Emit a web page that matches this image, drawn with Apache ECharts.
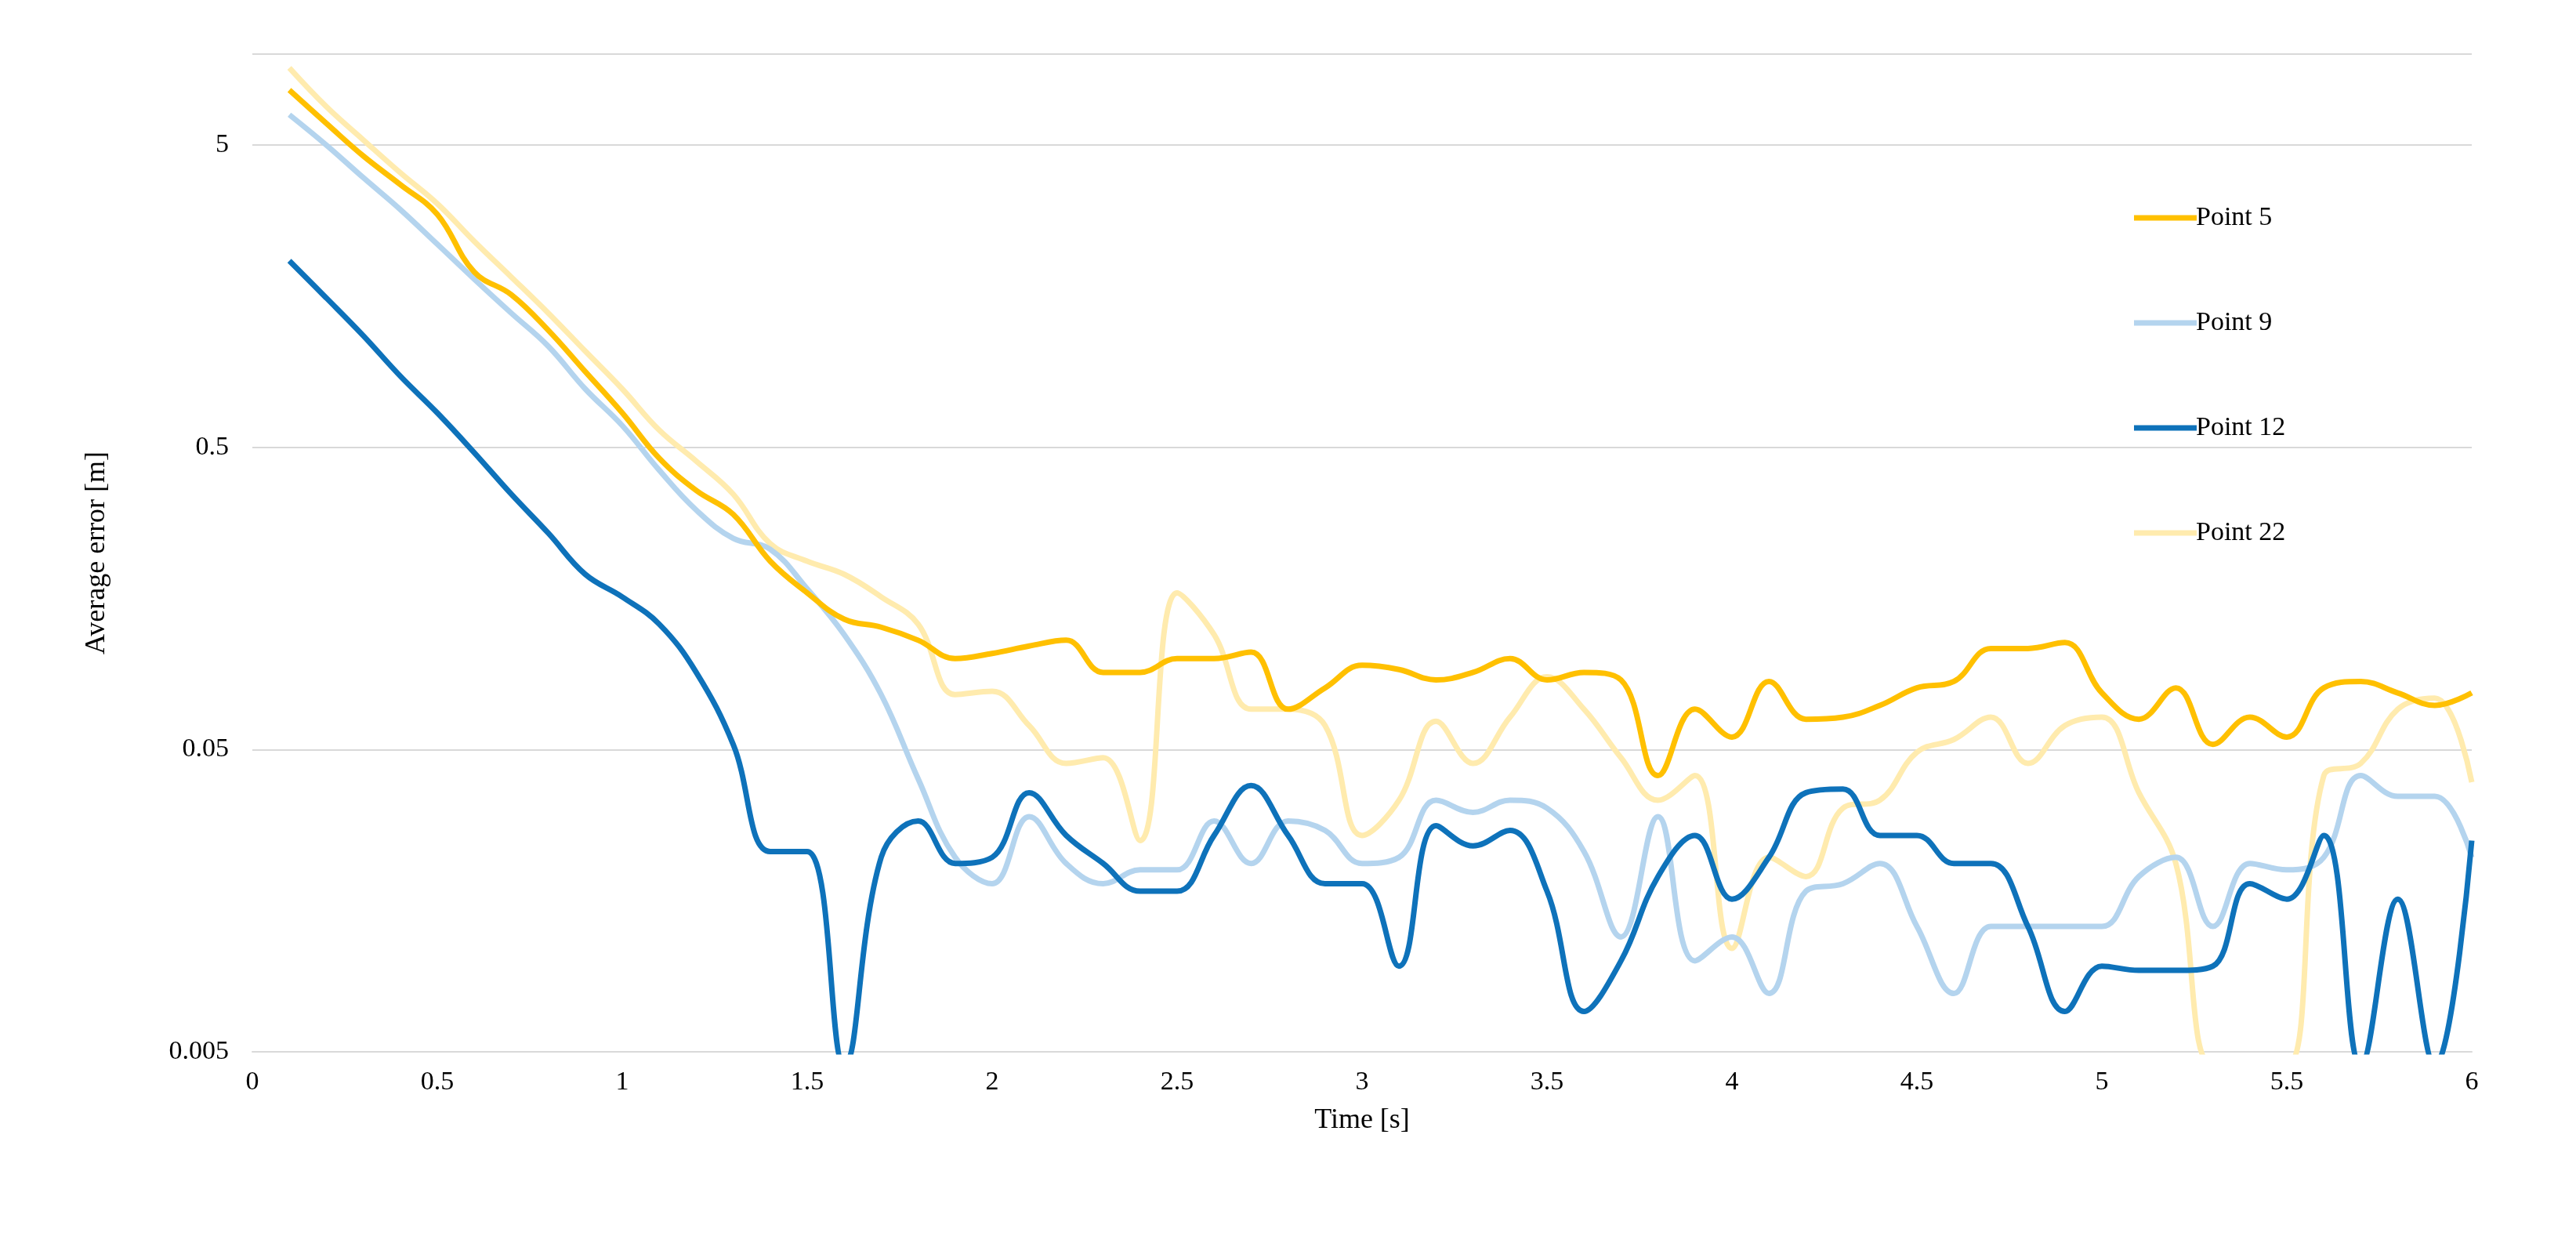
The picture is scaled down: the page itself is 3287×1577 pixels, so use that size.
<!DOCTYPE html>
<html>
<head>
<meta charset="utf-8">
<script src="https://cdn.jsdelivr.net/npm/echarts@6/dist/echarts.min.js"></script>
<style>html,body{margin:0;background:#fff}#c{width:3287px;height:1577px}</style>
</head>
<body>
<div id="c"></div>
<script>
const times = []
for (let i = 1; i <= 60; i++) times.push(+(i / 10).toFixed(1))

// values, one per 0.1 s
const point5 = [7.6,5.9,4.6,3.7,2.95,1.9,1.6,1.22,0.89,0.65,0.46,0.36,0.30,0.21,0.165,0.135,0.127,0.115,0.1,0.104,
  0.11,0.115,0.09,0.09,0.1,0.1,0.105,0.068,0.08,0.095,0.092,0.085,0.09,0.1,0.085,0.09,0.085,0.041,0.068,0.055,
  0.084,0.063,0.064,0.07,0.08,0.084,0.108,0.108,0.113,0.077,0.063,0.08,0.052,0.064,0.055,0.08,0.084,0.077,0.07,0.077]
const point9 = [6.3,5,3.9,3.06,2.35,1.8,1.39,1.08,0.78,0.59,0.42,0.31,0.25,0.23,0.17,0.12,0.076,0.04,0.022,0.018,
  0.03,0.021,0.018,0.02,0.02,0.029,0.021,0.029,0.027,0.021,0.022,0.034,0.031,0.034,0.032,0.023,0.012,0.03,0.01,0.012,
  0.0078,0.017,0.018,0.021,0.013,0.0078,0.013,0.013,0.013,0.013,0.019,0.022,0.013,0.021,0.02,0.022,0.041,0.035,0.035,0.022]
const point12 = [2.07,1.56,1.17,0.86,0.65,0.48,0.35,0.26,0.19,0.16,0.13,0.09,0.052,0.023,0.023,0.0045,0.022,0.029,0.021,0.022,
  0.036,0.026,0.021,0.017,0.017,0.026,0.038,0.026,0.018,0.018,0.0096,0.028,0.024,0.027,0.017,0.0068,0.01,0.019,0.026,0.016,
  0.022,0.036,0.037,0.026,0.026,0.021,0.021,0.013,0.0068,0.0096,0.0093,0.0093,0.0096,0.018,0.016,0.026,0.0045,0.016,0.0045,0.025]
const point22 = [9.0,6.7,5.2,4.05,3.2,2.4,1.83,1.39,1.04,0.78,0.57,0.45,0.35,0.24,0.21,0.19,0.16,0.13,0.076,0.078,
  0.06,0.045,0.047,0.025,0.165,0.12,0.068,0.068,0.06,0.026,0.034,0.062,0.045,0.064,0.087,0.068,0.047,0.034,0.041,0.011,
  0.022,0.019,0.032,0.034,0.049,0.054,0.064,0.045,0.06,0.064,0.036,0.021,0.0045,0.0045,0.0045,0.041,0.045,0.068,0.074,0.039]

// y axis: decades counted from 0.005 (ticks 0.005, 0.05, 0.5, 5)
const yBase = 0.005
const yMax = 10
const toY = v => Math.log10(v / yBase)

const font = 'Liberation Serif'
const pair = (ys) => times.map((t, i) => [t, toY(ys[i])])
const line = (name, ys, color, z) => ({
  name, type: 'line', data: pair(ys), smooth: 0.4, symbol: 'none', clip: true, z,
  lineStyle: { color, width: 7 }, itemStyle: { color }
})

const chart = echarts.init(document.getElementById('c'))
chart.setOption({
  backgroundColor: '#fff',
  animation: false,
  grid: { left: 322, right: 133, top: 69, bottom: 235 },
  legend: {
    orient: 'vertical', left: 2718, top: 256, itemGap: 100, itemWidth: 80, itemHeight: 7,
    icon: 'rect',
    textStyle: { fontFamily: font, fontSize: 34, color: '#000', padding: [0, 0, 0, -6] },
    data: ['Point 5', 'Point 9', 'Point 12', 'Point 22']
  },
  xAxis: {
    type: 'value', min: 0, max: 6, interval: 0.5,
    name: 'Time [s]', nameLocation: 'middle', nameGap: 70,
    nameTextStyle: { fontFamily: font, fontSize: 36, color: '#000' },
    axisLine: { lineStyle: { color: '#d9d9d9', width: 2 } },
    axisTick: { show: false }, splitLine: { show: false },
    axisLabel: { fontFamily: font, fontSize: 34, color: '#000', margin: 22 }
  },
  yAxis: {
    type: 'value', min: 0, max: toY(yMax), interval: 1,
    name: 'Average error [m]', nameLocation: 'middle', nameGap: 180,
    nameTextStyle: { fontFamily: font, fontSize: 36, color: '#000' },
    axisLine: { show: false }, axisTick: { show: false },
    splitLine: { lineStyle: { color: '#d9d9d9', width: 2 } },
    axisLabel: { fontFamily: font, fontSize: 34, color: '#000', margin: 30, showMaxLabel: false,
      formatter: v => Math.abs(v - Math.round(v)) < 1e-6 ? String(+(yBase * Math.pow(10, v)).toPrecision(3)) : '' }
  },
  series: [
    line('Point 22', point22, '#FFEBAE', 1),
    line('Point 9', point9, '#B4D4EE', 2),
    line('Point 12', point12, '#0E72BA', 3),
    line('Point 5', point5, '#FFC000', 4)
  ]
})
</script>
</body>
</html>
